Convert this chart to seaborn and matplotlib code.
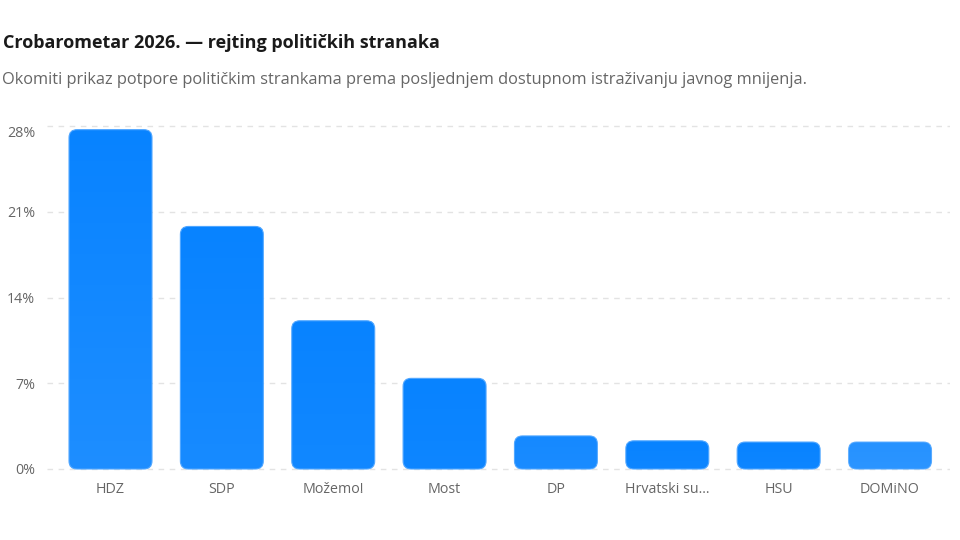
import numpy as np
import pandas as pd
import matplotlib
matplotlib.use("Agg")
import matplotlib.pyplot as plt
import seaborn as sns
from matplotlib.patches import FancyBboxPatch
from matplotlib.colors import LinearSegmentedColormap, to_rgb

parties = ["HDZ", "SDP", "Možemo!", "Most", "DP", "Hrvatski su...", "HSU", "DOMiNO"]
support = [27.7, 19.8, 12.1, 7.4, 2.7, 2.3, 2.2, 2.2]
y_ticks = [0, 7, 14, 21, 28]
y_tick_labels = ["0%", "7%", "14%", "21%", "28%"]

title = "Crobarometar 2026. — rejting političkih stranaka"
subtitle = "Okomiti prikaz potpore političkim strankama prema posljednjem dostupnom istraživanju javnog mnijenja."

sns.set_theme(style="white")
plt.rcParams["font.family"] = ["Open Sans", "DejaVu Sans"]

W, H = 960, 540
fig = plt.figure(figsize=(9.6, 5.4), dpi=100)
fig.patch.set_facecolor("white")

px_per_unit = 12.25
zero_px = 469
y_lo, y_hi = -0.3, 28.5
left_px, right_px = 47, 950
bottom_px = zero_px - y_lo * px_per_unit
top_px = zero_px - y_hi * px_per_unit
ax = fig.add_axes([left_px / W, 1 - bottom_px / H, (right_px - left_px) / W, (bottom_px - top_px) / H])

df = pd.DataFrame({"party": parties, "support": support})
sns.barplot(data=df, x="party", y="support", ax=ax, color="#0A84FF", width=0.745, saturation=1)

slot = 111.36
ax.set_xlim((left_px - 110.5) / slot, (right_px - 110.5) / slot)
ax.set_ylim(y_lo, y_hi)
ax.set_yticks(y_ticks)
ax.set_yticklabels(y_tick_labels)
ax.set_xlabel("")
ax.set_ylabel("")
for s in ax.spines.values():
    s.set_visible(False)
ax.tick_params(axis="both", length=0, labelsize=10.3, colors="#666666")
ax.tick_params(axis="y", pad=8.5)
ax.tick_params(axis="x", pad=7)
ax.yaxis.grid(True, color="#e3e3e3", linestyle=(0, (4, 4)), linewidth=1.0)
ax.set_axisbelow(True)
# top label sits just below its gridline, as in the reference
ax.get_yticklabels()[-1].set_verticalalignment("top")

fig.canvas.draw()
# aspect so rounded corners are circular in pixels
p0 = ax.transData.transform((0, 0))
p1 = ax.transData.transform((1, 1))
xpx = p1[0] - p0[0]
ypx = p1[1] - p0[1]
radius_px = 8
r_x = radius_px / xpx
aspect = xpx / ypx

top_col = np.array(to_rgb("#0883FF"))
bot_col = np.array(to_rgb("#1E8EFF"))
bar_alpha = [1, 1, 1, 1, 0.95, 1, 1, 0.88]

patches = list(ax.patches)
for i, p in enumerate(patches):
    x, y0 = p.get_x(), p.get_y()
    w, h = p.get_width(), p.get_height()
    p.remove()
    fb = FancyBboxPatch((x, y0), w, h,
                        boxstyle=f"round,pad=0,rounding_size={r_x}",
                        mutation_aspect=aspect,
                        facecolor="none", edgecolor="#4FA6FF", linewidth=0.8,
                        alpha=bar_alpha[i], zorder=3)
    ax.add_patch(fb)
    frac = h / 28.0
    c_top = top_col
    c_bot = top_col + (bot_col - top_col) * max(frac, 0.25)
    cmap = LinearSegmentedColormap.from_list("g", [c_bot, c_top])
    grad = np.linspace(0, 1, 256).reshape(-1, 1)
    im = ax.imshow(grad, extent=(x, x + w, y0, y0 + h), origin="lower", cmap=cmap,
                   aspect="auto", zorder=2, alpha=bar_alpha[i], interpolation="bilinear")
    im.set_clip_path(fb)

ax.set_xlim((left_px - 110.5) / slot, (right_px - 110.5) / slot)
ax.set_ylim(y_lo, y_hi)

fig.text(3 / W, 1 - 47.5 / H, title, fontsize=13.0, fontweight="bold", color="#1a1a1a",
         ha="left", va="baseline")
fig.text(2 / W, 1 - 84 / H, subtitle, fontsize=11.8, color="#666666",
         ha="left", va="baseline")

fig.savefig("out.png", dpi=100, facecolor="white")
